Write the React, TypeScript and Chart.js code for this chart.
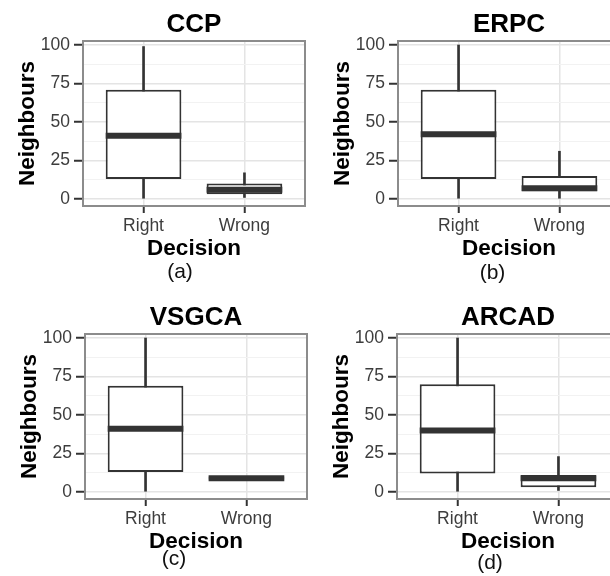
import React, { useEffect, useRef } from 'react';
import { Chart, registerables } from 'chart.js';

Chart.register(...registerables);
Chart.defaults.font.family = "'Liberation Sans', Arial, Helvetica, sans-serif";

// ---------------- data ----------------
const CATEGORIES = ['Right', 'Wrong'];
const PANEL_TITLES = ['CCP', 'ERPC', 'VSGCA', 'ARCAD'];
const PANEL_CAPTIONS = ['(a)', '(b)', '(c)', '(d)'];
const X_LABEL = 'Decision';
const Y_LABEL = 'Neighbours';
const Y_MAJOR_TICKS = [0, 25, 50, 75, 100];
const Y_MINOR_TICKS = [12.5, 37.5, 62.5, 87.5];

// five-number summaries per category: [min, q1, median, q3, max]
const CCP_STATS = [[0, 13, 41, 71, 99], [1, 3, 6, 10, 17]];
const ERPC_STATS = [[0, 13, 42, 71, 100], [0, 5, 7, 15, 31]];
const VSGCA_STATS = [[0, 13, 41, 69, 100], [8, 8, 9, 10, 10]];
const ARCAD_STATS = [[0, 12, 40, 70, 100], [1, 3, 9, 11, 23]];
const PANEL_STATS = [CCP_STATS, ERPC_STATS, VSGCA_STATS, ARCAD_STATS];

// ---------------- layout / style ----------------
const CANVAS_H = 290;
const PLOT_RIGHT = 305;
const BOX_WIDTH = 0.75;
const DARK = '#333333';
const PANEL_LAYOUT = [
  { left: 0, top: 0, capCenter: 180, capPad: 0 },
  { left: 315, top: 0, capCenter: 177.5, capPad: 1 },
  { left: 2, top: 293, capCenter: 172, capPad: -5.3 },
  { left: 314, top: 293, capCenter: 176, capPad: -2 },
];

const isMajor = (v: number) => Y_MAJOR_TICKS.includes(v);

const panelBorder = {
  id: 'panelBorder',
  afterDatasetsDraw(chart: any) {
    const { ctx, chartArea: a } = chart;
    ctx.save();
    ctx.strokeStyle = '#8c8c8c';
    ctx.lineWidth = 2;
    ctx.strokeRect(a.left, a.top, a.right - a.left, a.bottom - a.top);
    ctx.restore();
  },
};

function buildConfig(i: number, width: number): any {
  const stats = PANEL_STATS[i];
  const L = PANEL_LAYOUT[i];
  const positions = CATEGORIES.map((_, k) => k + 1);
  const boxData = positions.map((x, k) => ({ x, y: [stats[k][1], stats[k][3]] }));
  const whiskerData = positions.map((x, k) => ({ x, y: [stats[k][0], stats[k][4]] }));
  const medianData: any[] = [];
  positions.forEach((x, k) => {
    medianData.push({ x: x - BOX_WIDTH / 2, y: stats[k][2] });
    medianData.push({ x: x + BOX_WIDTH / 2, y: stats[k][2] });
    medianData.push({ x: x + 0.5, y: null });
  });
  const yTicks = [...Y_MAJOR_TICKS, ...Y_MINOR_TICKS].sort((a, b) => a - b);
  const yMin = -4.55;
  const yMax = 102.6;

  return {
    type: 'bar',
    data: {
      datasets: [
        {
          type: 'line',
          label: 'median',
          data: medianData,
          borderColor: DARK,
          borderWidth: 6,
          borderCapStyle: 'butt',
          pointRadius: 0,
          spanGaps: false,
          tension: 0,
          xAxisID: 'x',
          yAxisID: 'y',
        },
        {
          type: 'bar',
          label: 'box',
          data: boxData,
          backgroundColor: '#ffffff',
          borderColor: DARK,
          borderWidth: 2,
          borderSkipped: false,
          grouped: false,
          barPercentage: BOX_WIDTH,
          categoryPercentage: 1,
          xAxisID: 'x',
          yAxisID: 'y',
        },
        {
          type: 'bar',
          label: 'whisker',
          data: whiskerData,
          backgroundColor: DARK,
          borderWidth: 0,
          grouped: false,
          barThickness: 2,
          xAxisID: 'x',
          yAxisID: 'y',
        },
      ],
    },
    options: {
      animation: false,
      responsive: false,
      devicePixelRatio: 1,
      layout: { padding: { left: 10, right: 0, top: 0, bottom: 0 } },
      plugins: {
        legend: { display: false },
        tooltip: { enabled: false },
        title: {
          display: true,
          text: PANEL_TITLES[i],
          fullSize: false,
          color: '#000',
          font: { size: 26, weight: 'bold' },
          padding: { top: 9, bottom: 0.8 },
        },
        subtitle: {
          display: true,
          text: PANEL_CAPTIONS[i],
          position: 'bottom',
          fullSize: true,
          color: '#111',
          font: { size: 21, weight: 'normal' },
          padding: { top: L.capPad, bottom: 5.4 - L.capPad },
        },
      },
      scales: {
        x: {
          type: 'linear',
          min: 0.4,
          max: 2.6,
          offset: false,
          afterBuildTicks: (s: any) => {
            s.ticks = positions.map((v) => ({ value: v }));
          },
          afterFit: (s: any) => {
            s.height = 53.4;
          },
          grid: {
            offset: false,
            color: '#e4e4e4',
            lineWidth: 1.5,
            tickLength: 7,
            tickColor: DARK,
            tickWidth: 2,
          },
          border: { display: false },
          ticks: {
            callback: (_v: any, idx: number) => CATEGORIES[idx],
            color: '#3d3d3d',
            font: { size: 17.5 },
            padding: 3,
            maxRotation: 0,
            autoSkip: false,
          },
          title: {
            display: true,
            text: X_LABEL,
            color: '#000',
            font: { size: 22.5, weight: 'bold' },
            padding: { top: 0, bottom: -2.5 },
          },
        },
        y: {
          type: 'linear',
          position: 'left',
          min: yMin,
          max: yMax,
          afterBuildTicks: (s: any) => {
            s.ticks = yTicks.map((v) => ({ value: v }));
          },
          afterFit: (s: any) => {
            s.width = 73;
          },
          grid: {
            color: (c: any) => (isMajor(c.tick.value) ? '#e4e4e4' : '#f2f2f2'),
            lineWidth: (c: any) => (isMajor(c.tick.value) ? 1.5 : 1),
            tickLength: 9,
            tickColor: (c: any) => (isMajor(c.tick.value) ? DARK : 'rgba(0,0,0,0)'),
            tickWidth: 2,
          },
          border: { display: false },
          ticks: {
            callback: (v: any) => (isMajor(v) ? String(v) : ''),
            color: '#3d3d3d',
            font: { size: 17.5 },
            padding: 4,
            autoSkip: false,
          },
          title: {
            display: true,
            text: Y_LABEL,
            color: '#000',
            font: { size: 22.5, weight: 'bold' },
            padding: { top: 4, bottom: 0 },
          },
        },
        yRight: {
          type: 'linear',
          position: 'right',
          min: yMin,
          max: yMax,
          afterFit: (s: any) => {
            s.width = width - PLOT_RIGHT;
          },
          grid: { display: false, drawTicks: false },
          border: { display: false },
          ticks: { display: false },
          title: { display: false },
        },
      },
    },
    plugins: [panelBorder],
  };
}

function Panel({ index }: { index: number }) {
  const ref = useRef<HTMLCanvasElement | null>(null);
  const L = PANEL_LAYOUT[index];
  const width = Math.round(2 * L.capCenter - 10);
  useEffect(() => {
    if (!ref.current) return;
    const chart = new Chart(ref.current, buildConfig(index, width));
    return () => chart.destroy();
  }, [index, width]);
  return (
    <canvas
      ref={ref}
      width={width}
      height={CANVAS_H}
      style={{ position: 'absolute', left: L.left, top: L.top, width, height: CANVAS_H, display: 'block' }}
    />
  );
}

export default function App() {
  return (
    <div
      style={{
        position: 'fixed',
        left: 0,
        top: 0,
        width: 610,
        height: 576,
        overflow: 'hidden',
        background: '#ffffff',
      }}
    >
      {PANEL_TITLES.map((_, i) => (
        <Panel key={i} index={i} />
      ))}
    </div>
  );
}
